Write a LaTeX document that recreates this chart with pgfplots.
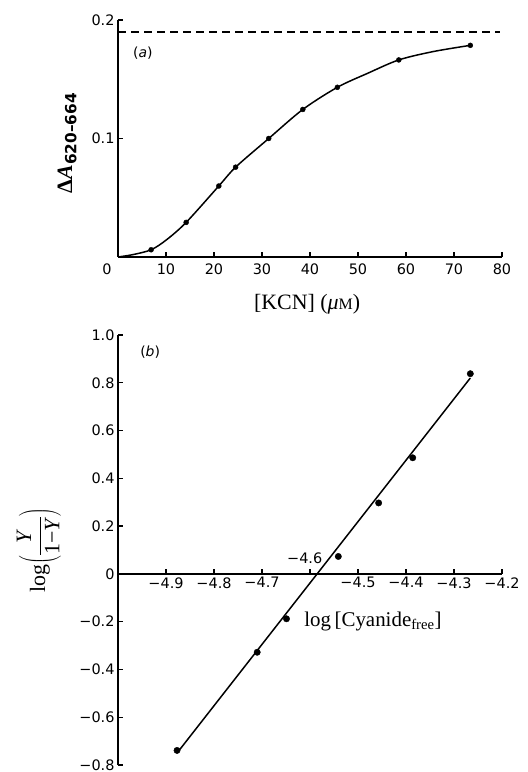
\documentclass[border=0pt]{standalone}
\usepackage{fontspec}
\setmainfont{Liberation Serif}
\setsansfont{DejaVu Sans}
\usepackage{pgfplots}
\pgfplotsset{compat=1.18}
\begin{document}
\begin{tikzpicture}
\useasboundingbox (0,0) rectangle (528bp,772bp);
\pgfplotsset{
  every axis/.append style={
    scale only axis, clip=false,
    axis line style={-, line width=1.6bp},
    major tick length=5bp,
    every tick/.style={line width=1.3bp, black},
    ticklabel style={font=\sffamily\fontsize{14.5}{14.5}\selectfont},
  }
}
% ---------------- panel (a)
\begin{axis}[
  at={(118bp,515bp)}, anchor=south west,
  width=384bp, height=237bp,
  xmin=0, xmax=80, ymin=0, ymax=0.2,
  axis x line*=bottom, axis y line*=left,
  tick align=inside,
  xtick={0,10,20,30,40,50,60,70,80},
  xticklabels={\makebox[0pt]{0\hspace{22bp}},10,20,30,40,50,60,70,80},
  ytick={0.1,0.2},
  yticklabels={0.1,0.2},
  xticklabel style={yshift=-3bp},
]
\addplot[dashed, dash pattern=on 8bp off 5bp, line width=1.4bp] coordinates {(0,0.19) (79.5,0.19)};
\addplot[smooth, tension=0.5, line width=1.5bp] coordinates {
 (0,0) (3.1,0.002) (6.9,0.0061) (10.1,0.0145) (14.2,0.0292) (21.0,0.0599)
 (24.5,0.0758) (31.4,0.1) (38.5,0.1245) (45.7,0.1432) (52,0.155) (58.5,0.1663)
 (65.6,0.1733) (73.4,0.1786)};
\addplot[only marks, mark=*, mark size=2.5bp] coordinates {
 (6.9,0.0061) (14.2,0.0292) (21.0,0.0599) (24.5,0.0758) (31.4,0.1)
 (38.5,0.1245) (45.7,0.1432) (58.5,0.1663) (73.4,0.1786)};
\node[font=\sffamily\fontsize{14}{14}\selectfont] at (axis cs:5.2,0.172) {(\textit{a})};
\node[font=\fontsize{22}{22}\selectfont] at (axis cs:39.4,-0.0400) {[KCN] (\textit{μ}{\fontsize{16}{16}\selectfont M})};
\node[rotate=90, font=\fontsize{22}{22}\selectfont] at (axis cs:-10.6,0.0962) {{\bfseries Δ\textit{A}}\textsubscript{\sffamily\bfseries 620–664}};
\end{axis}
% ---------------- panel (b)
\begin{axis}[
  at={(118bp,7bp)}, anchor=south west,
  width=384bp, height=430bp,
  xmin=-5, xmax=-4.2, ymin=-0.8, ymax=1.0,
  axis x line*=middle, axis y line*=left,
  tick align=inside,
  xtick={-4.9,-4.8,-4.7,-4.6,-4.5,-4.4,-4.3,-4.2},
  xticklabels={−4.9,−4.8,−4.7,,−4.5,−4.4,−4.3,−4.2},
  ytick={-0.8,-0.6,-0.4,-0.2,0,0.2,0.4,0.6,0.8,1.0},
  yticklabels={−0.8,−0.6,−0.4,−0.2,0,0.2,0.4,0.6,0.8,1.0},
]
\addplot[line width=1.5bp] coordinates {(-4.872,-0.737) (-4.266,0.82)};
\addplot[only marks, mark=*, mark size=3.2bp] coordinates {
 (-4.877,-0.739) (-4.710,-0.328) (-4.649,-0.188) (-4.541,0.073)
 (-4.457,0.297) (-4.386,0.486) (-4.266,0.838)};
\node[font=\sffamily\fontsize{14}{14}\selectfont] at (axis cs:-4.933,0.927) {(\textit{b})};
\node[font=\sffamily\fontsize{14.5}{14.5}\selectfont] at (axis cs:-4.611,0.064) {−4.6};
\node[anchor=west, font=\fontsize{21}{21}\selectfont] at (axis cs:-4.619,-0.2) {log\,[Cyanide\textsubscript{free}]};
\node[rotate=90, font=\fontsize{22}{22}\selectfont, inner sep=0pt] at (axis cs:-5.165,0.10) {log$\displaystyle\left(\frac{\mbox{\textit{Y}}}{\mbox{1−\textit{Y}}}\right)$};
\end{axis}
\end{tikzpicture}
\end{document}
